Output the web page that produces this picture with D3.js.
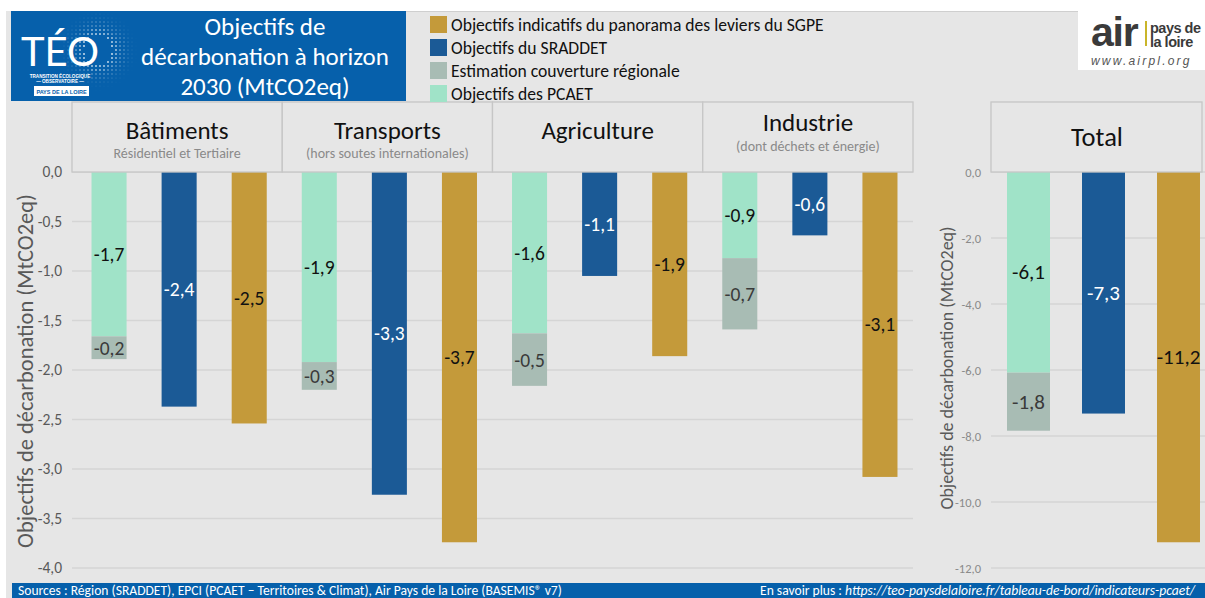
<!DOCTYPE html>
<html><head><meta charset="utf-8">
<script src="https://cdn.jsdelivr.net/npm/d3@7"></script>
<style>
body{margin:0;background:#fff;}
svg{display:block;font-family:Carlito, Calibri, Lato, "Open Sans", sans-serif;}
</style>
</head><body>
<svg id="c" width="1205" height="598"></svg>
<script>
// ---------- DATA ----------
const categories = ["Bâtiments", "Transports", "Agriculture", "Industrie"];
const subtitles = ["Résidentiel et Tertiaire", "(hors soutes internationales)", "", "(dont déchets et énergie)"];
const pcaet      = [-1.66, -1.92, -1.63, -0.87];
const estimation = [-0.23, -0.28, -0.53, -0.72];
const sraddet    = [-2.37, -3.26, -1.05, -0.64];
const sgpe       = [-2.54, -3.74, -1.86, -3.08];
const totalLabel = "Total";
const leftTicks  = [0, -0.5, -1, -1.5, -2, -2.5, -3, -3.5, -4];
const totalTicks = [0, -2, -4, -6, -8, -10, -12];
const seriesKeys = ["pcaet", "sraddet", "sgpe"];
const legendItems = [
  {key: "sgpe", label: "Objectifs indicatifs du panorama des leviers du SGPE"},
  {key: "sraddet", label: "Objectifs du SRADDET"},
  {key: "estimation", label: "Estimation couverture régionale"},
  {key: "pcaet", label: "Objectifs des PCAET"}
];
const titleLines = ["Objectifs de", "décarbonation à horizon", "2030 (MtCO2eq)"];
const yTitle = "Objectifs de décarbonation (MtCO2eq)";
const sourceText = "Sources : Région (SRADDET), EPCI (PCAET – Territoires & Climat), Air Pays de la Loire (BASEMIS® v7)";
const moreText = "En savoir plus : ";
const moreUrl = "https://teo-paysdelaloire.fr/tableau-de-bord/indicateurs-pcaet/";

// ---------- STYLE ----------
const colors = {pcaet: "#a0e3c8", estimation: "#a8bcb4", sraddet: "#1b5a96", sgpe: "#c49a3a"};
const labelColors = {pcaet: "#111", estimation: "#3a3a3a", sraddet: "#fff", sgpe: "#111"};
const blue = "#0660ab";
const bg = "#e6e6e6";

const fr = d3.formatLocale({decimal: ",", thousands: " ", grouping: [3], currency: ["", " €"], minus: "-"});
const f1 = fr.format(".1f");

const svg = d3.select("#c");

// background
svg.append("rect").attr("x", 0).attr("y", 0).attr("width", 1205).attr("height", 598).attr("fill", "#fff");
svg.append("rect").attr("x", 6).attr("y", 11).attr("width", 1199).attr("height", 587).attr("fill", bg);

// ---------- LEFT CHART ----------
const x0 = d3.scaleBand().domain(categories).range([72, 913]);
const x1 = d3.scaleBand().domain(seriesKeys).range([2, x0.bandwidth() + 2]).paddingInner(0.5).paddingOuter(0.25);
const yL = d3.scaleLinear().domain([-4, 0]).range([568, 172]);

svg.append("g").selectAll("line").data(leftTicks).join("line")
  .attr("x1", 72).attr("x2", 913)
  .attr("y1", d => yL(d)).attr("y2", d => yL(d))
  .attr("stroke", "#d5d5d5").attr("stroke-width", 1.3);

const axL = svg.append("g").attr("transform", "translate(72,0)")
  .call(d3.axisLeft(yL).tickValues(leftTicks).tickFormat(f1).tickSize(0).tickPadding(10));
axL.select(".domain").remove();
axL.selectAll("text").attr("fill", "#595959").attr("font-size", 15.5).attr("font-family", "Carlito, Calibri, Lato, sans-serif");

svg.append("text")
  .attr("transform", `translate(33,${(172+568)/2 + 1}) rotate(-90)`)
  .attr("text-anchor", "middle").attr("fill", "#595959").attr("font-size", 22.5)
  .text(yTitle);

const rows = categories.map((c, i) => ({cat: c, sub: subtitles[i], pcaet: pcaet[i], estimation: estimation[i], sraddet: sraddet[i], sgpe: sgpe[i]}));

function segments(d) {
  return [
    {key: "pcaet", band: "pcaet", y0: 0, y1: d.pcaet, v: d.pcaet},
    {key: "estimation", band: "pcaet", y0: d.pcaet, y1: d.pcaet + d.estimation, v: d.estimation},
    {key: "sraddet", band: "sraddet", y0: 0, y1: d.sraddet, v: d.sraddet},
    {key: "sgpe", band: "sgpe", y0: 0, y1: d.sgpe, v: d.sgpe}
  ];
}

const catG = svg.append("g").selectAll("g").data(rows).join("g")
  .attr("transform", d => `translate(${x0(d.cat)},0)`);

catG.selectAll("rect.bar").data(d => segments(d)).join("rect").attr("class", "bar")
  .attr("x", s => x1(s.band)).attr("width", x1.bandwidth())
  .attr("y", s => yL(s.y0)).attr("height", s => yL(s.y1) - yL(s.y0))
  .attr("fill", s => colors[s.key]);

catG.selectAll("text.lab").data(d => segments(d)).join("text").attr("class", "lab")
  .attr("x", s => x1(s.band) + x1.bandwidth() / 2)
  .attr("y", s => (yL(s.y0) + yL(s.y1)) / 2)
  .attr("text-anchor", "middle").attr("dominant-baseline", "central")
  .attr("font-size", 19.5).attr("fill", s => labelColors[s.key])
  .text(s => f1(s.v));

// header boxes
const hdr = svg.append("g").selectAll("g").data(rows).join("g")
  .attr("transform", d => `translate(${x0(d.cat)},0)`);
hdr.append("rect").attr("x", 0).attr("y", 102).attr("width", x0.bandwidth()).attr("height", 70)
  .attr("fill", bg).attr("stroke", "#c6c6c6").attr("stroke-width", 1.3);
hdr.append("text").attr("x", x0.bandwidth() / 2)
  .attr("y", d => d.cat === "Industrie" ? 131 : 138.5)
  .attr("text-anchor", "middle").attr("font-size", 25).attr("fill", "#111")
  .text(d => d.cat);
hdr.append("text").attr("x", x0.bandwidth() / 2)
  .attr("y", d => d.cat === "Industrie" ? 150.5 : 158)
  .attr("text-anchor", "middle").attr("font-size", 14).attr("fill", "#8a8a8a")
  .text(d => d.sub);

// ---------- TOTAL CHART ----------
const totalRow = {
  pcaet: d3.sum(pcaet), estimation: d3.sum(estimation),
  sraddet: d3.sum(sraddet), sgpe: d3.sum(sgpe)
};
const xT = d3.scaleBand().domain(seriesKeys).range([991, 1216]).paddingInner(0.427).paddingOuter(0.2135);
const yT = d3.scaleLinear().domain([-12, 0]).range([568, 172]);

svg.append("g").selectAll("line").data(totalTicks).join("line")
  .attr("x1", 991).attr("x2", 1205)
  .attr("y1", d => yT(d)).attr("y2", d => yT(d))
  .attr("stroke", "#d5d5d5").attr("stroke-width", 1.3);

const axT = svg.append("g").attr("transform", "translate(991,0)")
  .call(d3.axisLeft(yT).tickValues(totalTicks).tickFormat(f1).tickSize(0).tickPadding(10));
axT.select(".domain").remove();
axT.selectAll("text").attr("fill", "#8a8a8a").attr("font-size", 12.5).attr("font-family", "Carlito, Calibri, Lato, sans-serif");

svg.append("text")
  .attr("transform", `translate(953,${(172+568)/2 - 2}) rotate(-90)`)
  .attr("text-anchor", "middle").attr("fill", "#595959").attr("font-size", 18)
  .text(yTitle);

const totG = svg.append("g");
totG.selectAll("rect").data(segments(totalRow)).join("rect")
  .attr("x", s => xT(s.band)).attr("width", xT.bandwidth())
  .attr("y", s => yT(s.y0)).attr("height", s => yT(s.y1) - yT(s.y0))
  .attr("fill", s => colors[s.key]);
totG.selectAll("text").data(segments(totalRow)).join("text")
  .attr("x", s => xT(s.band) + xT.bandwidth() / 2)
  .attr("y", s => (yT(s.y0) + yT(s.y1)) / 2)
  .attr("text-anchor", "middle").attr("dominant-baseline", "central")
  .attr("font-size", 21).attr("fill", s => labelColors[s.key])
  .text(s => f1(s.v));

svg.append("rect").attr("x", 991).attr("y", 102).attr("width", 211).attr("height", 70)
  .attr("fill", bg).attr("stroke", "#c6c6c6").attr("stroke-width", 1.3);
svg.append("text").attr("x", 1097).attr("y", 146).attr("text-anchor", "middle")
  .attr("font-size", 26.5).attr("fill", "#111").text(totalLabel);

// ---------- TITLE BOX ----------
svg.append("rect").attr("x", 11).attr("y", 11).attr("width", 395).attr("height", 90).attr("fill", blue);
svg.append("line").attr("x1", 406).attr("x2", 1205).attr("y1", 11.5).attr("y2", 11.5).attr("stroke", "#cfcfcf");
const halo = svg.append("g");
const hc = [98, 50];
const pts = [];
d3.range(-46, 47, 4).forEach(dx => d3.range(-40, 47, 4).forEach(dy => {
  const r = Math.hypot(dx, dy);
  if (r > 14 && r < 44) pts.push({x: hc[0] + dx, y: hc[1] + dy, r});
}));
halo.selectAll("circle").data(pts).join("circle")
  .attr("cx", d => d.x).attr("cy", d => d.y)
  .attr("r", d => 1.1 * (1 - (d.r - 14) / 34))
  .attr("fill", "#fff").attr("opacity", d => 0.75 * (1 - (d.r - 14) / 32));
svg.append("text").attr("x", 60).attr("y", 66).attr("text-anchor", "middle")
  .attr("font-size", 40).attr("fill", "#fff").attr("font-family", "Lato, sans-serif").text("TÉO");
svg.append("text").attr("x", 60).attr("y", 77.5).attr("text-anchor", "middle")
  .attr("font-size", 4.6).attr("font-weight", "bold").attr("fill", "#fff").attr("font-family", "Liberation Sans, sans-serif").text("TRANSITION ÉCOLOGIQUE");
svg.append("text").attr("x", 60).attr("y", 83).attr("text-anchor", "middle")
  .attr("font-size", 4.6).attr("font-weight", "bold").attr("fill", "#fff").attr("font-family", "Liberation Sans, sans-serif").text("— OBSERVATOIRE —");
svg.append("rect").attr("x", 34).attr("y", 86).attr("width", 55).attr("height", 10).attr("fill", "#fff");
svg.append("text").attr("x", 61.5).attr("y", 93.5).attr("text-anchor", "middle")
  .attr("font-size", 5.5).attr("font-weight", "bold").attr("fill", blue).attr("font-family", "Liberation Sans, sans-serif").text("PAYS DE LA LOIRE");

svg.append("g").selectAll("text").data(titleLines).join("text")
  .attr("x", 265).attr("y", (d, i) => 35 + i * 30)
  .attr("text-anchor", "middle").attr("font-size", 25).attr("fill", "#fff")
  .text(d => d);

// ---------- LEGEND ----------
const lg = svg.append("g").selectAll("g").data(legendItems).join("g")
  .attr("transform", (d, i) => `translate(430,${16 + i * 23})`);
lg.append("rect").attr("width", 17).attr("height", 17).attr("fill", d => colors[d.key]);
lg.append("text").attr("x", 21).attr("y", 14.5).attr("font-size", 17.6).attr("fill", "#111").text(d => d.label);

// ---------- AIR LOGO ----------
svg.append("rect").attr("x", 1078).attr("y", 11).attr("width", 127).attr("height", 59).attr("fill", "#fff");
svg.append("text").attr("x", 1091).attr("y", 46).attr("font-size", 41).attr("font-weight", "bold")
  .attr("fill", "#3a3a3a").attr("font-family", "Liberation Sans, sans-serif").attr("letter-spacing", -1.2).text("air");
svg.append("line").attr("x1", 1146).attr("x2", 1146).attr("y1", 21).attr("y2", 46).attr("stroke", "#c9b52a").attr("stroke-width", 2);
svg.append("text").attr("x", 1150).attr("y", 33).attr("font-size", 14.5).attr("font-weight", "bold")
  .attr("fill", "#3a3a3a").attr("font-family", "Liberation Sans, sans-serif").attr("letter-spacing", -0.5).text("pays de");
svg.append("text").attr("x", 1150).attr("y", 47).attr("font-size", 14.5).attr("font-weight", "bold")
  .attr("fill", "#3a3a3a").attr("font-family", "Liberation Sans, sans-serif").attr("letter-spacing", -0.5).text("la loire");
svg.append("text").attr("x", 1091).attr("y", 65).attr("font-size", 12).attr("font-style", "italic")
  .attr("fill", "#555").attr("font-family", "Liberation Sans, sans-serif").attr("letter-spacing", 2.2).text("www.airpl.org");

// ---------- FOOTER ----------
svg.append("rect").attr("x", 12).attr("y", 583).attr("width", 1193).attr("height", 15).attr("fill", blue);
svg.append("text").attr("x", 18).attr("y", 594.5).attr("font-size", 13.6).attr("fill", "#fff").text(sourceText);
const more = svg.append("text").attr("x", 1195).attr("y", 594.5).attr("text-anchor", "end").attr("font-size", 13.6).attr("fill", "#fff");
more.append("tspan").text(moreText);
more.append("tspan").attr("font-style", "italic").text(moreUrl);
</script>
</body></html>
